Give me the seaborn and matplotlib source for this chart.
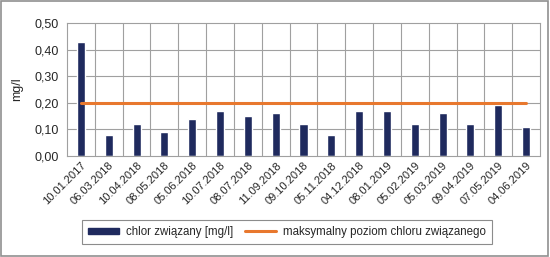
import numpy as np
import pandas as pd
import matplotlib
matplotlib.use("Agg")
import matplotlib.pyplot as plt
from matplotlib.patches import Rectangle
from matplotlib.lines import Line2D
from matplotlib.ticker import MultipleLocator, FuncFormatter
import seaborn as sns

# data
dates = ["10.01.2017", "06.03.2018", "10.04.2018", "08.05.2018", "05.06.2018",
         "10.07.2018", "08.07.2018", "11.09.2018", "09.10.2018", "05.11.2018",
         "04.12.2018", "08.01.2019", "05.02.2019", "05.03.2019", "09.04.2019",
         "07.05.2019", "04.06.2019"]
chlor = [0.43, 0.08, 0.12, 0.09, 0.14, 0.17, 0.15, 0.16, 0.12, 0.08,
         0.17, 0.17, 0.12, 0.16, 0.12, 0.19, 0.11]
limit = [0.20] * len(dates)

bar_color = "#1f2a5e"
line_color = "#e8782e"
grid_color = "#a0a0a0"

sns.set_style("white")
plt.rcParams["font.family"] = ["Liberation Sans Narrow", "Liberation Sans", "DejaVu Sans"]

df = pd.DataFrame({"data": dates, "chlor": chlor})

fig = plt.figure(figsize=(5.5, 2.57), dpi=100)
ax = fig.add_axes([0.1218, 0.393, 0.86, 0.5175])

sns.barplot(data=df, x="data", y="chlor", color=bar_color, width=0.29,
            saturation=1, ax=ax)
ax.plot(range(len(dates)), limit, color=line_color, lw=2.2, zorder=3)

ax.set_xlim(-0.5, len(dates) - 0.5)
ax.set_ylim(0, 0.5)
ax.yaxis.set_major_locator(MultipleLocator(0.1))
ax.yaxis.set_major_formatter(FuncFormatter(lambda v, p: f"{v:.2f}".replace(".", ",")))

# grid: horizontal at ticks, vertical between categories
for y in np.arange(0.1, 0.5, 0.1):
    ax.axhline(y, color=grid_color, lw=0.8, zorder=0)
for x in np.arange(0.5, len(dates) - 0.5, 1):
    ax.axvline(x, color=grid_color, lw=0.8, zorder=0)
for s in ax.spines.values():
    s.set_color(grid_color)
    s.set_linewidth(0.8)

ax.set_xlabel("")
ax.set_ylabel("mg/l", fontsize=9, labelpad=8)
ax.tick_params(axis="y", labelsize=9, length=0, pad=6)
ax.tick_params(axis="x", length=0, pad=3)
ax.set_xticks(range(len(dates)))
ax.set_xticklabels(dates, rotation=45, ha="right", rotation_mode="anchor", fontsize=8)

handles = [Rectangle((0, 0), 1, 1, color=bar_color),
           Line2D([0], [0], color=line_color, lw=2.2)]
leg = fig.legend(handles, ["chlor związany [mg/l]", "maksymalny poziom chloru związanego"],
                 loc="center", bbox_to_anchor=(0.522, 0.097), ncol=2, fontsize=8.3,
                 frameon=True, fancybox=False, handlelength=2.7, handleheight=0.55,
                 columnspacing=1.0, borderpad=0.5, handletextpad=0.6)
leg.get_frame().set_edgecolor("#707070")
leg.get_frame().set_linewidth(0.8)

# outer frame of the figure
fig.patches.append(Rectangle((0.002, 0.004), 0.994, 0.992, transform=fig.transFigure,
                             fill=False, edgecolor="#909090", lw=1.2))

fig.savefig("out.png", dpi=100)
